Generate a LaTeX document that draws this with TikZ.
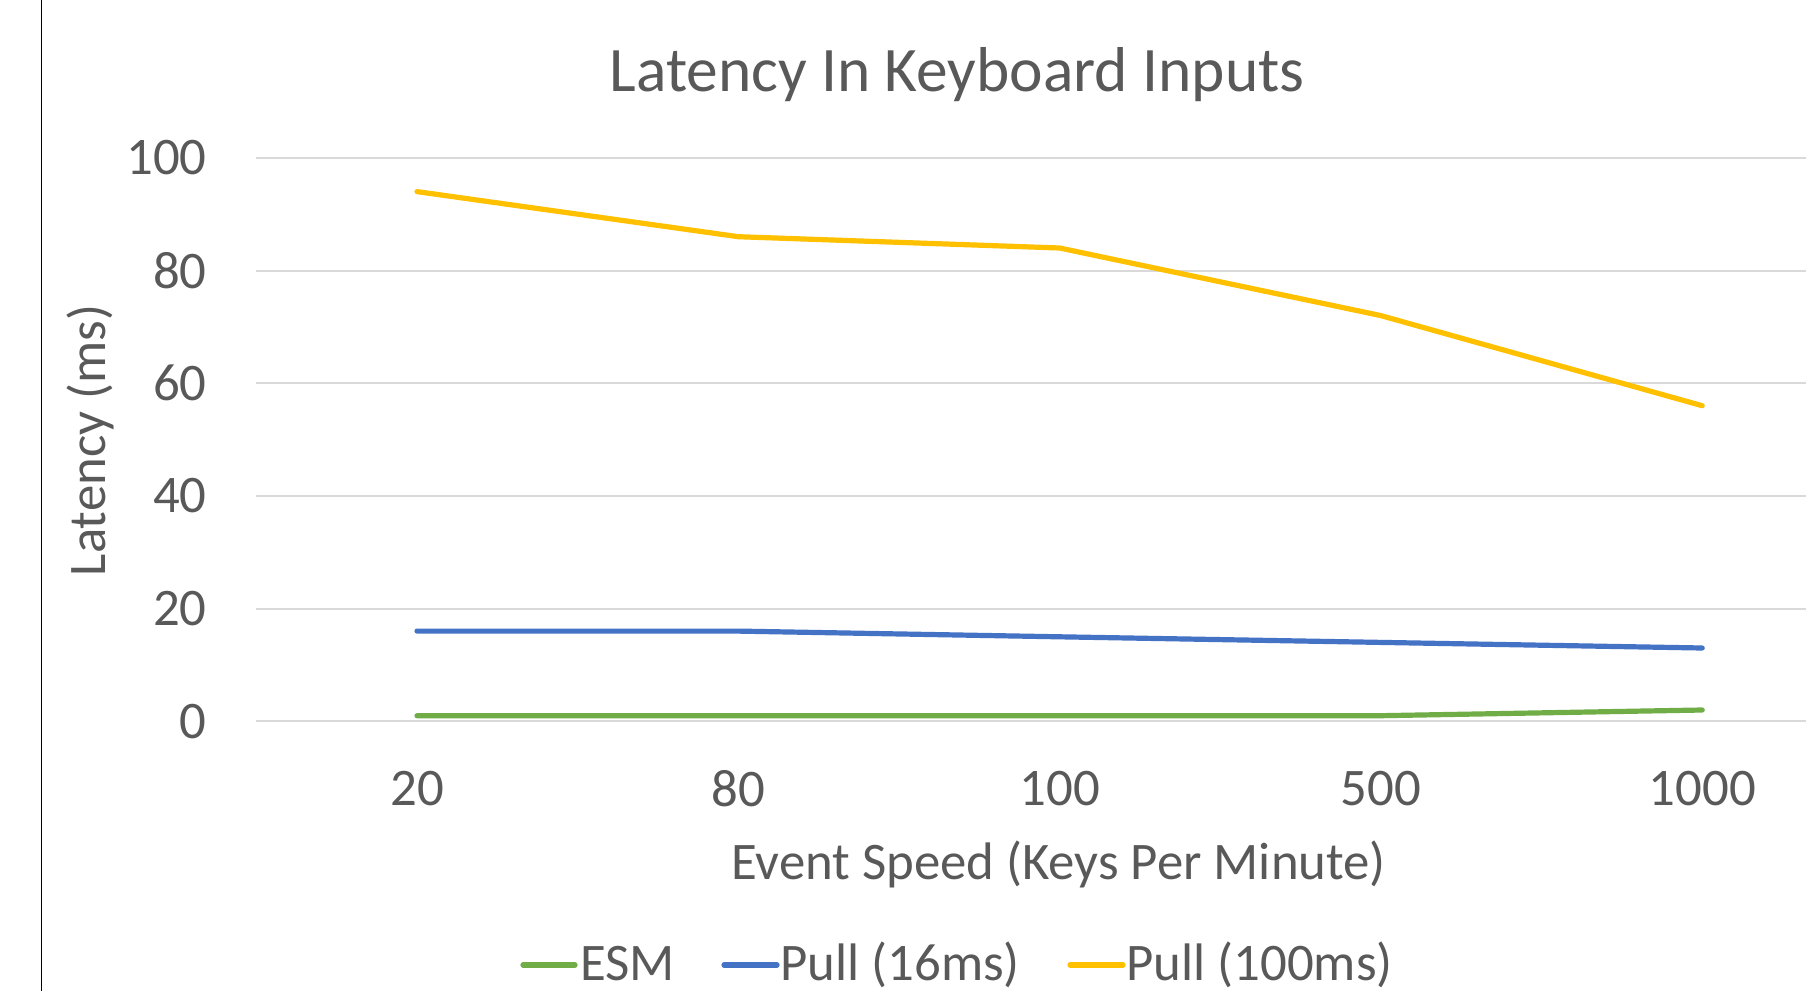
\documentclass[tikz,border=0pt]{standalone}
\usepackage{fontspec}
\setmainfont{Carlito}
\definecolor{txt}{HTML}{595959}
\definecolor{grid}{HTML}{D9D9D9}
\definecolor{esm}{HTML}{70AD47}
\definecolor{pullA}{HTML}{4472C4}
\definecolor{pullB}{HTML}{FFC000}
\begin{document}
\begin{tikzpicture}[x=0.5pt,y=-0.5pt,
  lbl/.style={text=txt,inner sep=0pt,font=\fontsize{26.4}{30}\selectfont},
  ttl/.style={text=txt,inner sep=0pt,font=\fontsize{31.7}{36}\selectfont},
  gridline/.style={draw=grid,line width=1pt},
  series/.style={line width=2.6pt,line cap=round,line join=round},
  legline/.style={line width=2.6pt,line cap=round}]
\useasboundingbox (0,0) rectangle (1806,991);
\fill[white] (0,0) rectangle (1806,991);
% left frame line
\coordinate (ft) at (41.5,0);
\coordinate (fb) at (41.5,991);
\draw[black,line width=0.9pt] (ft) -- (fb);
% gridlines and y tick labels
\foreach \v/\yy in {0/721.3,20/608.6,40/496.0,60/383.3,80/270.7,100/158.0}{
  \coordinate (gl\v) at (255.7,\yy);
  \coordinate (gr\v) at (1806,\yy);
  \draw[gridline] (gl\v) -- (gr\v);
  \node[lbl,anchor=east] (yt\v) at (207,\yy) {\v};
}
% x tick labels
\foreach \c/\xx in {20/417,80/738.3,100/1059.6,500/1380.9,1000/1702.2}{
  \node[lbl,anchor=center] (xt\c) at (\xx,789) {\c};
}
% titles
\node[ttl,anchor=base] (title) at (957,91) {Latency In Keyboard Inputs};
\node[lbl,anchor=base] (xtitle) at (1058.5,879) {Event Speed (Keys Per Minute)};
\node[lbl,anchor=base,rotate=90] (ytitle) at (105,440.5) {Latency (ms)};
% data
\coordinate (y1) at (417,191.6);
\coordinate (y2) at (738.3,236.7);
\coordinate (y3) at (1059.6,248.0);
\coordinate (y4) at (1380.9,315.6);
\coordinate (y5) at (1702.2,405.7);
\coordinate (b1) at (417,631.1);
\coordinate (b2) at (738.3,631.1);
\coordinate (b3) at (1059.6,636.8);
\coordinate (b4) at (1380.9,642.4);
\coordinate (b5) at (1702.2,648.0);
\coordinate (g1) at (417,715.7);
\coordinate (g2) at (738.3,715.7);
\coordinate (g3) at (1059.6,715.7);
\coordinate (g4) at (1380.9,715.7);
\coordinate (g5) at (1702.2,710.0);
\draw[series,draw=esm] (g1) -- (g2) -- (g3) -- (g4) -- (g5);
\draw[series,draw=pullA] (b1) -- (b2) -- (b3) -- (b4) -- (b5);
\draw[series,draw=pullB] (y1) -- (y2) -- (y3) -- (y4) -- (y5);
% legend
\coordinate (l1a) at (523,965); \coordinate (l1b) at (575,965);
\coordinate (l2a) at (724,965); \coordinate (l2b) at (777,965);
\coordinate (l3a) at (1070,965); \coordinate (l3b) at (1123,965);
\draw[legline,draw=esm] (l1a) -- (l1b);
\draw[legline,draw=pullA] (l2a) -- (l2b);
\draw[legline,draw=pullB] (l3a) -- (l3b);
\node[lbl,anchor=base west] (leg1) at (580,980) {ESM};
\node[lbl,anchor=base west] (leg2) at (780,980) {Pull (16ms)};
\node[lbl,anchor=base west] (leg3) at (1126,980) {Pull (100ms)};
\end{tikzpicture}
\end{document}
